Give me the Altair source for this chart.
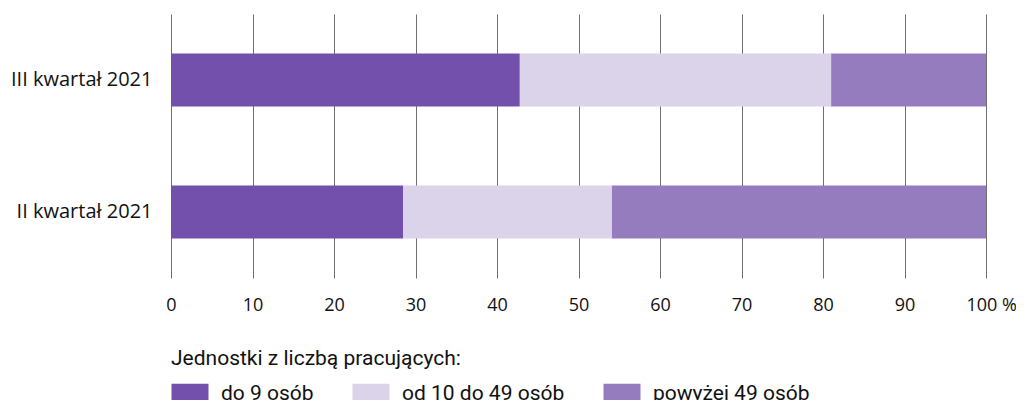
import altair as alt
import pandas as pd

periods = ["III kwartał 2021", "II kwartał 2021"]
groups = ["do 9 osób", "od 10 do 49 osób", "powyżej 49 osób"]
values = {
    "III kwartał 2021": [42.8, 38.2, 19.0],
    "II kwartał 2021": [28.5, 25.6, 45.9],
}
colors = ["#7450ad", "#dbd3ea", "#957cbf"]

rows = []
for p in periods:
    for i, g in enumerate(groups):
        rows.append({"okres": p, "grupa": g, "wartosc": values[p][i], "kolejnosc": i})
df = pd.DataFrame(rows)

chart = alt.Chart(df).mark_bar().encode(
    y=alt.Y("okres:N", sort=periods, title=None,
            scale=alt.Scale(paddingInner=0.6, paddingOuter=0.3),
            axis=alt.Axis(domain=False, ticks=False, labelPadding=19, labelFontSize=20,
                          labelFont="Open Sans", labelColor="#111111", labelLimit=300)),
    x=alt.X("wartosc:Q", stack="zero", title=None,
            scale=alt.Scale(domain=[0, 100], nice=False),
            axis=alt.Axis(values=list(range(0, 101, 10)), domain=False, ticks=False,
                          grid=True, gridColor="#6f6f6f", gridWidth=1,
                          labelPadding=18, labelFontSize=18, labelFont="Open Sans",
                          labelColor="#111111", labelFlush=False,
                          labelAlign={"condition": {"test": "datum.value == 100", "value": "left"},
                                      "value": "center"},
                          labelOffset={"condition": {"test": "datum.value == 100", "value": -20},
                                       "value": 0},
                          labelExpr="datum.value == 100 ? '100 %' : datum.label")),
    color=alt.Color("grupa:N", sort=groups,
                    scale=alt.Scale(domain=groups, range=colors),
                    legend=alt.Legend(title="Jednostki z liczbą pracujących:",
                                      orient="none", legendX=0, legendY=334,
                                      direction="horizontal",
                                      titleFont="Roboto", titleFontSize=21, titleFontWeight="normal",
                                      titleColor="#111111", titlePadding=14, titleLimit=600,
                                      labelFont="Roboto", labelFontSize=21, labelColor="#111111",
                                      labelOffset=29, columnPadding=38, labelLimit=400,
                                      symbolType="M-1,-1H2.7V1H-1Z", symbolSize=400,
                                      symbolStrokeWidth=0, symbolOpacity=1, padding=0)),
    order=alt.Order("kolejnosc:Q"),
).properties(
    width=815, height=264,
    autosize=alt.AutoSizeParams(type="none"),
    padding={"left": 163, "top": 6, "right": 30, "bottom": 122},
).configure_view(stroke=None)

chart.save("out.html", embed_options={"renderer": "svg", "actions": False})
